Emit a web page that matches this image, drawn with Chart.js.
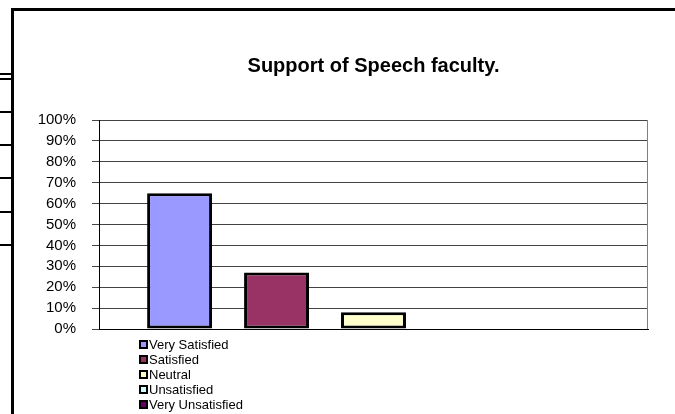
<!DOCTYPE html>
<html>
<head>
<meta charset="utf-8">
<script src="https://cdn.jsdelivr.net/npm/chart.js@4/dist/chart.umd.min.js"></script>
<style>
  html, body { margin: 0; padding: 0; background: #fff; }
  #wrap { position: relative; width: 675px; height: 414px; overflow: hidden; }
  #legend {
    position: absolute; left: 139px; top: 337px;
    font: 13px 'Liberation Sans', Arial, sans-serif; color: #000;
  }
  .lg-row { height: 15px; line-height: 15px; display: flex; align-items: center; }
  .lg-box {
    width: 5px; height: 5px; border: 2px solid #000;
    margin-right: 1px; flex: none;
  }
</style>
</head>
<body>
<div id="wrap">
  <canvas id="chart" width="675" height="414"></canvas>
  <div id="legend"></div>
</div>
<script>
/* ── Data ───────────────────────────────────────────────────── */
const categories = [''];
const seriesNames  = ['Very Satisfied', 'Satisfied', 'Neutral', 'Unsatisfied', 'Very Unsatisfied'];
const seriesValues = [65, 27, 8, 0, 0];
const seriesColors = ['#9999FF', '#993366', '#FFFFCC', '#CCFFFF', '#660066'];
const yTicks = [0, 10, 20, 30, 40, 50, 60, 70, 80, 90, 100];

const FONT = "'Liberation Sans', Arial, sans-serif";

/* ── Sheet frame behind the chart ───────────────────────────── */
const framePlugin = {
  id: 'frame',
  beforeDraw(chart) {
    const ctx = chart.ctx;
    ctx.save();
    ctx.fillStyle = '#fff';
    ctx.fillRect(0, 0, chart.width, chart.height);
    ctx.strokeStyle = '#000';
    ctx.lineWidth = 3;
    ctx.beginPath();
    ctx.moveTo(11, 9.5);  ctx.lineTo(chart.width, 9.5);
    ctx.moveTo(12.5, 8);  ctx.lineTo(12.5, chart.height);
    ctx.stroke();
    ctx.lineWidth = 2;
    ctx.beginPath();
    [74, 79, 112, 145, 178, 212, 245].forEach(y => {
      ctx.moveTo(0, y); ctx.lineTo(11, y);
    });
    ctx.stroke();
    ctx.restore();
  },
  afterDatasetsDraw(chart) {
    const a = chart.chartArea, ctx = chart.ctx;
    ctx.save();
    ctx.strokeStyle = '#808080';
    ctx.lineWidth = 1;
    ctx.beginPath();
    ctx.moveTo(Math.round(a.right) - 0.5, a.top);
    ctx.lineTo(Math.round(a.right) - 0.5, a.bottom);
    ctx.stroke();
    ctx.restore();
  }
};

/* ── Chart ──────────────────────────────────────────────────── */
const chart = new Chart(document.getElementById('chart'), {
  type: 'bar',
  data: {
    labels: categories,
    datasets: seriesNames.map((name, i) => ({
      label: name,
      data: [seriesValues[i]],
      backgroundColor: seriesColors[i],
      borderColor: '#000',
      borderWidth: seriesValues[i] ? 3 : 0,
      borderSkipped: false,
      categoryPercentage: 0.883,
      barPercentage: 0.67
    }))
  },
  options: {
    responsive: false,
    animation: false,
    layout: { padding: { left: 0, right: 27, top: 0, bottom: 85 } },
    plugins: {
      legend: { display: false },
      tooltip: { enabled: false },
      title: {
        display: true,
        fullSize: false,
        text: 'Support of Speech faculty.',
        color: '#000',
        font: { family: FONT, size: 20, weight: 'bold' },
        padding: { top: 54, bottom: 42 }
      }
    },
    scales: {
      x: {
        ticks: { display: false },
        grid: { display: false },
        border: { color: '#000', width: 1 },
        afterFit(s) { s.height = 0; }
      },
      y: {
        min: 0, max: 100,
        afterBuildTicks(s) { s.ticks = yTicks.map(v => ({ value: v })); },
        ticks: {
          color: '#000',
          padding: 16,
          autoSkip: false,
          font: { family: FONT, size: 15 },
          callback: v => v + '%'
        },
        grid: { color: '#444', tickLength: 7, lineWidth: 1 },
        border: { color: '#000', width: 1 },
        afterFit(s) { s.width = 99; }
      }
    }
  },
  plugins: [framePlugin]
});

/* ── HTML legend (vertical list under the plot) ─────────────── */
document.getElementById('legend').innerHTML = chart.data.datasets.map(d => `
  <div class="lg-row">
    <span class="lg-box" style="background:${d.backgroundColor}"></span>${d.label}
  </div>`).join('');
</script>
</body>
</html>
